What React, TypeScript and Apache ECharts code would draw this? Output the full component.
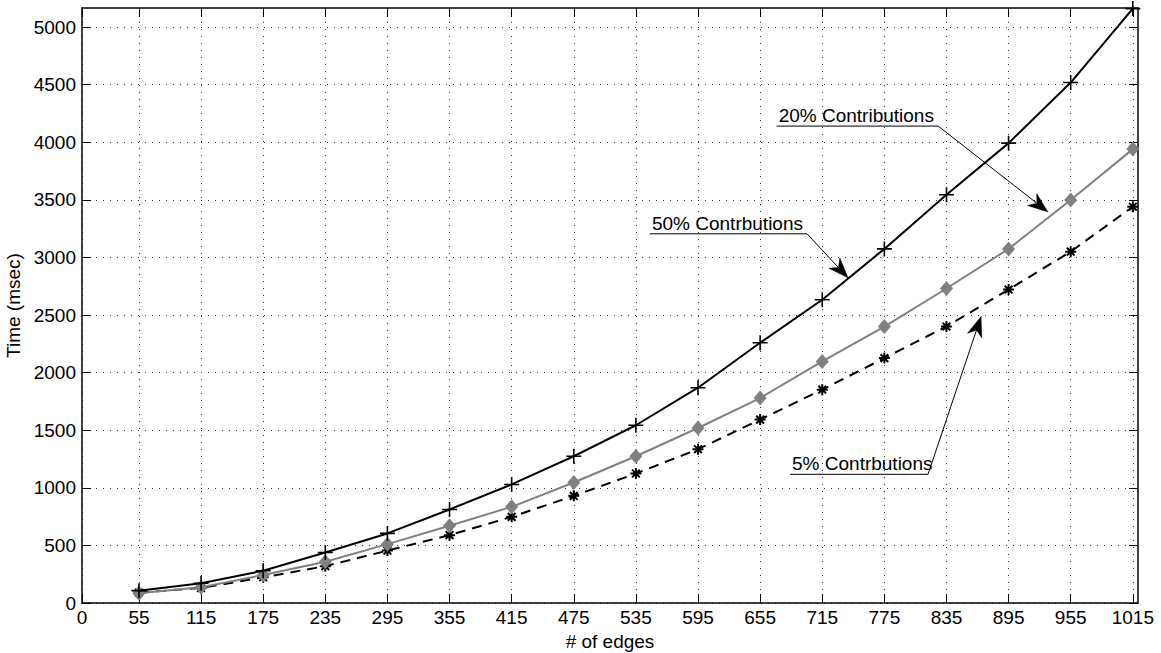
import React, { useEffect, useRef } from "react";
import * as echarts from "echarts";

const xTicks = [0, 55, 115, 175, 235, 295, 355, 415, 475, 535, 595, 655, 715, 775, 835, 895, 955, 1015];
const yTicks = [0, 500, 1000, 1500, 2000, 2500, 3000, 3500, 4000, 4500, 5000];
const edges = [55, 115, 175, 235, 295, 355, 415, 475, 535, 595, 655, 715, 775, 835, 895, 955, 1015];
const contrib50 = [107, 171, 280, 439, 604, 812, 1029, 1274, 1543, 1869, 2259, 2632, 3074, 3544, 3992, 4518, 5160];
const contrib20 = [85, 136, 243, 358, 511, 670, 835, 1046, 1274, 1519, 1779, 2097, 2400, 2730, 3074, 3498, 3940];
const contrib5 = [90, 130, 223, 320, 455, 589, 748, 930, 1124, 1335, 1592, 1852, 2126, 2400, 2721, 3050, 3440];

const annoLabels = ["20% Contributions", "50% Contrbutions", "5% Contrbutions"];
const annoStart = [[671, 4140], [548.6, 3205], [683.9, 1117]];
const annoEnd = [[827, 4140], [700.3, 3205], [817.2, 1117]];
const annoTip = [[933, 3395], [739.9, 2823], [868.4, 2486]];

const FONT = "'Liberation Sans', Arial, Helvetica, sans-serif";
const FS = 19;
const X_MAX = 1020;
const Y_MAX = 5165;

export default function App() {
  const ref = useRef<HTMLDivElement>(null);
  useEffect(() => {
    if (!ref.current) return;
    const chart = echarts.init(ref.current, null, { renderer: "svg" });
    const mk = (arr: number[]) => edges.map((x, i) => [x, arr[i]]);
    const axisLine = { show: true, onZero: false, lineStyle: { color: "#000", width: 1.5 } };
    const grid = { type: [1, 6] as any, color: "#333", width: 1 };
    const fmt = (v: number) => String(v);
    const option: any = {
      animation: false,
      backgroundColor: "#fff",
      grid: { left: 82, right: 23, top: 8, bottom: 50, containLabel: false, outerBoundsMode: "none" },
      xAxis: [
        {
          type: "value", min: 0, max: X_MAX, position: "bottom",
          axisLine,
          axisTick: { show: true, inside: true, length: 9, customValues: xTicks, lineStyle: { color: "#000", width: 1 } },
          axisLabel: { show: true, customValues: xTicks, formatter: fmt, fontSize: FS, color: "#000", margin: 5, fontFamily: FONT },
          splitLine: { show: true, lineStyle: grid },
          name: "# of edges", nameLocation: "middle", nameGap: 27,
          nameTextStyle: { fontSize: FS, color: "#000", fontFamily: FONT },
        },
        {
          type: "value", min: 0, max: X_MAX, position: "top",
          axisLine,
          axisTick: { show: true, inside: true, length: 9, customValues: xTicks, lineStyle: { color: "#000", width: 1 } },
          axisLabel: { show: false },
          splitLine: { show: false },
        },
      ],
      yAxis: [
        {
          type: "value", min: 0, max: Y_MAX, position: "left",
          axisLine,
          axisTick: { show: true, inside: true, length: 9, customValues: yTicks, lineStyle: { color: "#000", width: 1 } },
          axisLabel: { show: true, customValues: yTicks, formatter: fmt, fontSize: FS, color: "#000", margin: 6, fontFamily: FONT },
          splitLine: { show: true, lineStyle: grid },
          name: "Time (msec)", nameLocation: "middle", nameGap: 55,
          nameTextStyle: { fontSize: FS, color: "#000", fontFamily: FONT },
        },
        {
          type: "value", min: 0, max: Y_MAX, position: "right",
          axisLine,
          axisTick: { show: true, inside: true, length: 9, customValues: yTicks, lineStyle: { color: "#000", width: 1 } },
          axisLabel: { show: false },
          splitLine: { show: false },
        },
      ],
      series: [
        {
          name: "5% Contrbutions", type: "line", data: mk(contrib5), z: 3,
          lineStyle: { color: "#000", width: 2, type: [10, 7] },
          symbol: "path://M5,0L5,10M0,5L10,5M1.5,1.5L8.5,8.5M1.5,8.5L8.5,1.5", symbolSize: 11,
          itemStyle: { color: "#000", borderColor: "#000", borderWidth: 2 },
        },
        {
          name: "20% Contributions", type: "line", data: mk(contrib20), z: 4,
          lineStyle: { color: "#808080", width: 2 },
          symbol: "diamond", symbolSize: [13, 15],
          itemStyle: { color: "#808080", borderColor: "#808080", borderWidth: 0 },
        },
        {
          name: "50% Contrbutions", type: "line", data: mk(contrib50), z: 5,
          lineStyle: { color: "#000", width: 2 },
          symbol: "path://M5,0L5,10M0,5L10,5", symbolSize: 15,
          itemStyle: { color: "#000", borderColor: "#000", borderWidth: 1.6 },
        },
      ],
    };
    chart.setOption(option);

    const toPx = (p: number[]) => chart.convertToPixel({ seriesIndex: 0 }, p) as number[];
    const graphics: any[] = [];
    annoLabels.forEach((label, i) => {
      const s = toPx(annoStart[i]);
      const e = toPx(annoEnd[i]);
      const t = toPx(annoTip[i]);
      const dx = t[0] - e[0];
      const dy = t[1] - e[1];
      const len = Math.hypot(dx, dy);
      const ux = dx / len, uy = dy / len;
      const nx = -uy, ny = ux;
      const L = 20, W = 7.5, notch = 6;
      const base = [t[0] - L * ux, t[1] - L * uy];
      graphics.push({
        type: "text", x: s[0] + 2, y: s[1] - 1, z: 100,
        style: { text: label, fontSize: FS, fontFamily: FONT, fill: "#000", align: "left", verticalAlign: "bottom" },
      });
      graphics.push({
        type: "polyline", z: 100,
        shape: { points: [s, e, [t[0] - (L - notch) * ux, t[1] - (L - notch) * uy]] },
        style: { stroke: "#000", lineWidth: 1, fill: null },
      });
      graphics.push({
        type: "polygon", z: 101,
        shape: {
          points: [
            t,
            [base[0] + W * nx, base[1] + W * ny],
            [t[0] - (L - notch) * ux, t[1] - (L - notch) * uy],
            [base[0] - W * nx, base[1] - W * ny],
          ],
        },
        style: { fill: "#000", stroke: "#000", lineWidth: 0.5 },
      });
    });
    chart.setOption({ graphic: graphics });

    return () => chart.dispose();
  }, []);
  return (
    <div
      ref={ref}
      style={{ position: "fixed", left: 0, top: 0, width: 1161, height: 653, background: "#fff" }}
    />
  );
}
